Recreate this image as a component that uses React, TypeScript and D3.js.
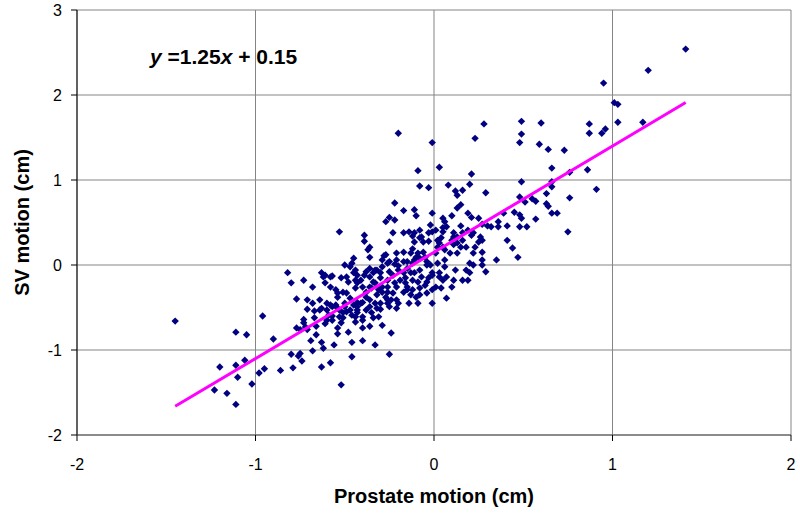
import React from "react";
import * as d3 from "d3";

const xTicks = [-2, -1, 0, 1, 2];
const yTicks = [-2, -1, 0, 1, 2, 3];
const fitSlope = 1.25;
const fitIntercept = 0.15;
const fitRange = [-1.45, 1.41];
const xTitle = "Prostate motion (cm)";
const yTitle = "SV motion (cm)";

// [prostate motion, SV motion] in cm
const points: [number, number][] = [
  [-1.45,-0.66],[-1.11,-0.79],[-1.05,-0.82],[-0.96,-0.60],[-0.90,-0.87],[-1.20,-1.20],[-1.11,-1.18],[-1.06,-1.12],
  [-1.10,-1.32],[-1.23,-1.47],[-1.16,-1.51],[-1.11,-1.64],[-1.02,-1.40],[-0.98,-1.27],[-0.95,-1.22],[-0.86,-1.24],
  [-0.79,-1.21],[-0.80,-1.05],[-0.76,-1.07],[-0.74,-1.13],[-0.68,-1.01],[-0.63,-1.20],[-0.62,-0.98],[-0.58,-1.15],
  [-0.52,-1.41],[-0.56,-0.94],[-0.69,-0.89],[-0.63,-0.91],[-0.77,-0.74],[-0.71,-0.76],[-0.66,-0.72],[-0.60,-0.65],
  [-0.57,-0.60],[-0.71,-0.52],[-0.67,-0.54],[-0.63,-0.51],[-0.77,-0.40],[-0.80,-0.21],[-0.68,-0.26],[-0.73,-0.64],
  [-0.73,-0.68],[-0.66,-0.82],[-0.57,-0.49],[-0.55,-0.29],[-0.58,-0.26],[-0.51,-0.32],[-0.52,-0.68],[-0.48,-0.79],
  [-0.49,-0.55],[-0.46,-0.91],[-0.46,-1.08],[-0.40,-0.89],[-0.33,-0.94],[-0.25,-1.05],[-0.24,-0.80],[-0.54,-0.81],
  [-0.82,-0.09],[-0.73,-0.18],[-0.75,-0.76],[-0.61,-0.69],[-0.51,-0.56],[-0.46,-0.59],[-0.44,-0.61],[-0.43,-0.56],
  [-0.40,-0.65],[-0.34,-0.62],[-0.30,-0.52],[-0.38,-0.53],[-0.36,-0.49],[-0.33,-0.45],[-0.26,-0.45],[-0.21,-0.51],
  [-0.24,-0.41],[-0.27,-0.38],[-0.32,-0.35],[-0.38,-0.38],[-0.41,-0.45],[-0.45,-0.47],[-0.50,-0.49],[-0.54,-0.51],
  [-0.60,-0.53],[-0.64,-0.53],[-0.67,-0.62],[-0.57,-0.65],[-0.53,-0.61],[-0.47,-0.53],[-0.43,-0.49],[-0.40,-0.44],
  [-0.38,-0.32],[-0.35,-0.27],[-0.33,-0.21],[-0.31,-0.29],[-0.29,-0.26],[-0.26,-0.32],[-0.23,-0.33],[-0.20,-0.45],
  [-0.14,-0.45],[-0.09,-0.45],[-0.10,-0.38],[-0.13,-0.35],[-0.17,-0.32],[-0.12,-0.29],[-0.08,-0.27],[-0.04,-0.33],
  [-0.05,-0.24],[-0.09,-0.20],[-0.12,-0.18],[-0.16,-0.21],[-0.19,-0.18],[-0.21,-0.26],[-0.23,-0.12],[-0.20,-0.06],
  [-0.17,-0.09],[-0.15,-0.04],[-0.11,-0.09],[-0.07,-0.14],[-0.04,-0.20],[-0.01,-0.12],[0.01,-0.26],[-0.01,-0.45],
  [0.07,-0.39],[0.04,-0.27],[0.10,-0.26],[0.11,-0.18],[0.07,-0.14],[0.03,-0.09],[0.06,-0.02],[0.12,-0.06],
  [0.16,-0.18],[0.18,-0.06],[0.20,-0.09],[0.22,0.00],[0.27,0.06],[0.29,-0.08],[0.35,0.06],[0.22,0.14],
  [0.27,0.15],[0.13,0.14],[0.06,0.06],[0.02,0.02],[-0.04,0.04],[-0.08,0.08],[-0.12,0.02],[-0.17,0.04],
  [-0.21,0.06],[-0.25,0.04],[-0.29,-0.02],[-0.30,-0.09],[-0.33,-0.06],[-0.36,-0.04],[-0.39,-0.12],[-0.41,-0.18],
  [-0.45,-0.09],[-0.47,-0.02],[-0.50,0.00],[-0.46,0.02],[-0.44,-0.06],[-0.48,-0.20],[-0.54,-0.33],[-0.61,-0.12],
  [-0.57,-0.13],[-0.63,-0.09],[-0.64,-0.41],[-0.60,-0.45],[-0.55,-0.47],[-0.54,-0.38],[-0.49,-0.33],[-0.44,-0.27],
  [-0.40,-0.26],[-0.40,-0.61],[-0.35,-0.56],[-0.45,0.08],[-0.36,0.09],[-0.29,0.06],[-0.27,0.12],[-0.21,0.14],
  [-0.13,0.14],[-0.06,0.15],[0.01,0.14],[-0.09,1.11],[0.03,1.15],[-0.08,0.93],[-0.03,0.91],[-0.22,0.73],
  [-0.17,0.64],[-0.11,0.65],[-0.10,0.58],[-0.25,0.56],[-0.27,0.51],[-0.22,0.53],[-0.01,0.61],[-0.02,0.47],
  [0.05,0.55],[0.05,0.44],[-0.53,0.39],[-0.39,0.35],[-0.39,0.28],[-0.23,0.38],[-0.25,0.27],[-0.36,0.21],
  [-0.37,0.18],[-0.14,0.39],[-0.12,0.34],[-0.08,0.32],[-0.06,0.27],[-0.03,0.28],[0.01,0.41],[0.04,0.32],
  [-0.17,0.15],[-0.12,0.19],[-0.10,0.09],[-0.28,0.11],[-0.52,-0.15],[-0.49,-0.14],[-0.43,-0.21],[-0.58,-0.47],
  [0.28,1.66],[0.49,1.69],[0.60,1.67],[0.49,1.54],[0.48,1.44],[0.59,1.42],[0.64,1.36],[0.73,1.35],
  [0.87,1.66],[0.87,1.55],[0.94,1.55],[0.96,1.60],[1.01,1.91],[1.03,1.89],[1.03,1.68],[1.17,1.68],
  [1.20,2.29],[1.41,2.54],[0.95,2.14],[-0.20,1.55],[-0.01,1.44],[0.23,1.49],[0.21,1.07],[0.08,0.94],
  [0.12,0.87],[0.16,0.88],[0.20,0.95],[0.13,0.82],[0.29,0.85],[0.15,0.71],[0.13,0.67],[0.19,0.61],
  [0.21,0.56],[0.25,0.55],[0.10,0.58],[0.06,0.51],[0.07,0.45],[0.15,0.46],[0.19,0.41],[0.27,0.48],
  [0.30,0.46],[0.32,0.45],[0.36,0.45],[0.36,0.51],[0.41,0.46],[0.39,0.61],[0.45,0.62],[0.48,0.59],
  [0.49,0.55],[0.48,0.45],[0.52,0.45],[0.57,0.54],[0.48,0.80],[0.49,0.98],[0.51,0.74],[0.55,0.78],
  [0.57,0.75],[0.63,0.84],[0.63,0.72],[0.64,0.69],[0.66,0.61],[0.69,0.61],[0.66,0.92],[0.66,0.98],
  [0.66,1.14],[0.76,1.09],[0.76,0.79],[0.86,1.12],[0.91,0.89],[0.75,0.39],[0.41,0.29],[0.44,0.20],
  [0.47,0.09],[0.21,0.35],[0.26,0.33],[0.27,0.29],[0.23,0.21],[0.18,0.21],[0.20,0.02],[0.27,0.00],
  [0.19,-0.18],[0.05,-0.18],[0.03,0.26],[0.05,0.21],[0.10,0.29],[0.11,0.33],[0.15,0.21],[0.13,0.33],
  [-0.09,0.14],[-0.05,0.09],[-0.15,0.04],[-0.02,0.00],[-0.01,-0.09],[0.03,-0.14],[-0.03,-0.15],[-0.08,-0.06],
  [-0.13,-0.09],[-0.03,0.38],[-0.17,0.38],[-0.11,0.38],[0.02,0.29],[0.11,0.38],[0.16,0.38],[0.05,0.39],
  [0.16,0.29],[0.13,0.26],[0.09,0.14],[0.11,0.24],[0.02,0.21],[0.06,0.18],[-0.08,-0.35],[-0.15,-0.29],
  [-0.01,-0.29],[-0.16,-0.15],[-0.04,0.00],[-0.11,0.06],[-0.11,0.27],[-0.07,0.33],[-0.01,0.39],[-0.08,0.41],
  [0.25,0.27],[0.22,0.38],[-0.26,0.02],[-0.22,0.01],[-0.20,-0.01],[-0.62,-0.14],[-0.58,-0.14],[-0.61,-0.21],
  [-0.44,-0.18],[-0.43,-0.12],[-0.38,-0.08],[-0.36,-0.14],[-0.34,-0.20],[-0.36,-0.26],[-0.29,-0.32],[-0.26,-0.26],
  [-0.26,-0.18],[-0.30,-0.15],[-0.34,-0.09],[-0.32,-0.06],[-0.25,-0.08],[-0.22,-0.21],[-0.21,-0.41],[-0.15,-0.26],
  [-0.47,-0.39],[-0.50,-0.45],[-0.43,-0.44],[-0.43,-0.53],[-0.36,-0.41],[-0.32,-0.51],[-0.30,-0.45],[-0.26,-0.41],
  [-0.25,-0.49],[-0.59,-0.59],[-0.72,-0.73],[-0.54,-0.74],[-0.75,-1.04],[-0.29,-0.71],[-0.31,-0.61],[-0.36,-0.72],
  [-0.40,-0.74],[-0.44,-0.67],[-0.51,-0.62],[-0.53,-0.53],[-0.71,-0.41],[-0.68,-0.45],
];

const W = 800;
const H = 515;
const plot = { left: 77, right: 791, top: 10, bottom: 435 };
const font = "Arial, 'Liberation Sans', Helvetica, sans-serif";

export default function App() {
  const x = d3.scaleLinear().domain([-2, 2]).range([plot.left, plot.right]);
  const y = d3.scaleLinear().domain([-2, 3]).range([plot.bottom, plot.top]);
  const r = 3.7;
  const diamond = `M0,${-r}L${r},0L0,${r}L${-r},0Z`;
  const fitLine = d3
    .line<number>()
    .x((d) => x(d))
    .y((d) => y(fitSlope * d + fitIntercept));

  return (
    <svg
      width={W}
      height={H}
      style={{ position: "absolute", left: 0, top: 0, background: "#fff" }}
      fontFamily={font}
    >
      <rect x={0} y={0} width={W} height={H} fill="#fff" />
      {/* gridlines */}
      {yTicks.map((t) => (
        <line key={"gy" + t} x1={plot.left} x2={plot.right} y1={y(t)} y2={y(t)} stroke="#858585" strokeWidth={1} />
      ))}
      {xTicks.map((t) => (
        <line key={"gx" + t} x1={x(t)} x2={x(t)} y1={plot.top} y2={plot.bottom} stroke="#858585" strokeWidth={1} />
      ))}
      {/* axes */}
      <line x1={plot.left} x2={plot.left} y1={plot.top} y2={plot.bottom} stroke="#000" strokeWidth={1} />
      <line x1={plot.left} x2={plot.right} y1={plot.bottom} y2={plot.bottom} stroke="#555" strokeWidth={1} />
      {yTicks.map((t) => (
        <g key={"ty" + t}>
          <line x1={plot.left - 6} x2={plot.left} y1={y(t)} y2={y(t)} stroke="#000" />
          <text x={62} y={y(t)} dy="0.35em" textAnchor="end" fontSize={16} fill="#000">
            {t}
          </text>
        </g>
      ))}
      {xTicks.map((t) => (
        <g key={"tx" + t}>
          <line x1={x(t)} x2={x(t)} y1={plot.bottom} y2={plot.bottom + 6} stroke="#000" />
          <text x={x(t)} y={470} textAnchor="middle" fontSize={16} fill="#000">
            {t}
          </text>
        </g>
      ))}
      {/* points */}
      {points.map((p, i) => (
        <path key={i} d={diamond} transform={`translate(${x(p[0])},${y(p[1])})`} fill="#000080" />
      ))}
      {/* regression line */}
      <path d={fitLine(fitRange) || ""} stroke="#FF00FF" strokeWidth={3} fill="none" />
      {/* equation */}
      <text x={150} y={64} fontSize={21} fontWeight="bold" fill="#000">
        <tspan fontStyle="italic">y</tspan>
        <tspan> =1.25</tspan>
        <tspan fontStyle="italic">x</tspan>
        <tspan> + 0.15</tspan>
      </text>
      {/* axis titles */}
      <text x={434} y={503} textAnchor="middle" fontSize={20} fontWeight="bold" fill="#000">
        {xTitle}
      </text>
      <text
        transform={`translate(29,${(plot.top + plot.bottom) / 2}) rotate(-90)`}
        textAnchor="middle"
        fontSize={20}
        fontWeight="bold"
        fill="#000"
      >
        {yTitle}
      </text>
    </svg>
  );
}
